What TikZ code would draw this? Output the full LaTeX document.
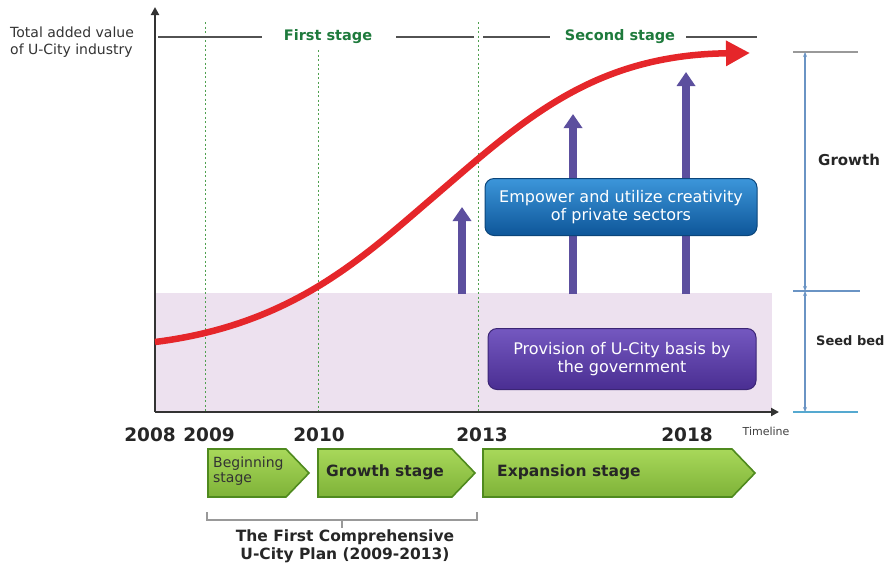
\documentclass[tikz,border=0pt]{standalone}
\usepackage{fontspec}
\setmainfont{DejaVu Sans}
\usetikzlibrary{arrows.meta}
\definecolor{axisgray}{HTML}{333333}
\definecolor{stagegreen}{HTML}{1E7A3C}
\definecolor{dashgreen}{HTML}{4FA04F}
\definecolor{curvered}{HTML}{E5262A}
\definecolor{arrowpurple}{HTML}{5C4F9E}
\definecolor{seedpink}{HTML}{EDE1EF}
\definecolor{chevfill}{HTML}{8CC63E}
\definecolor{chevtop}{HTML}{A8D85A}
\definecolor{chevborder}{HTML}{4F8A1E}
\definecolor{bracketblue}{HTML}{6A94C4}
\definecolor{boxbluetop}{HTML}{3C96DA}
\definecolor{boxbluebot}{HTML}{0E5699}
\definecolor{boxpurtop}{HTML}{7458C0}
\definecolor{boxpurbot}{HTML}{4A2E92}
\tikzset{
  axisline/.style={draw=axisgray, line width=2.6pt, -{Triangle[length=8pt,width=8pt]}},
  headline/.style={draw=axisgray!85, line width=2pt},
  yeardash/.style={draw=dashgreen, line width=0.9pt, dash pattern=on 2pt off 2.5pt},
  yearlabel/.style={font=\bfseries\fontsize{18.5}{20}\selectfont, text=black!85, inner sep=0pt},
  stagelabel/.style={font=\bfseries\fontsize{14.5}{16}\selectfont, text=stagegreen, inner sep=0pt},
  uparrow/.style={draw=arrowpurple, line width=8pt, -{Triangle[length=14pt,width=18pt]}},
  chev/.style={draw=chevborder, line width=1.6pt, top color=chevtop, bottom color=chevfill!90!black},
  chevtext/.style={font=\bfseries\fontsize{15.5}{17}\selectfont, text=black!85, inner sep=0pt},
  actionbox/.style={rounded corners=9pt, draw=#1bot!80!black, line width=1pt,
     top color=#1top, bottom color=#1bot, text=white, align=center,
     font=\fontsize{16}{18.5}\selectfont, inner sep=0pt},
  sidetick/.style={draw=bracketblue, line width=1.6pt},
  sidelabel/.style={font=\bfseries\fontsize{15}{17}\selectfont, text=black!85, inner sep=0pt, anchor=west},
}
\begin{document}
\begin{tikzpicture}[x=1pt, y=-1pt]
\useasboundingbox (0,0) rectangle (893,566);
% seed bed background
\fill[seedpink] (155,293) rectangle (772,411);
% dashed year lines
\coordinate (d09t) at (205,22); \coordinate (d09b) at (205,411);
\coordinate (d10t) at (318,50); \coordinate (d10b) at (318,411);
\coordinate (d13t) at (478,22); \coordinate (d13b) at (478,411);
\draw[yeardash] (d09t) -- (d09b);
\draw[yeardash] (d10t) -- (d10b);
\draw[yeardash] (d13t) -- (d13b);
% axes
\coordinate (origin) at (155,412);
\coordinate (ytop) at (155,7);
\coordinate (xend) at (779,412);
\draw[axisline] (origin) -- (ytop);
\draw[axisline] (origin) -- (xend);
% axis label
\node[anchor=west, align=left, font=\fontsize{14}{16.5}\selectfont, text=black!80, inner sep=0pt] (ylabel) at (10,42) {Total added value\\of U-City industry};
\node[font=\fontsize{11}{12}\selectfont, text=black!75, inner sep=0pt] (timeline) at (766,431) {Timeline};
% stage header
\node[stagelabel] (first) at (328,37) {First stage};
\node[stagelabel] (second) at (620,37) {Second stage};
\coordinate (h1a) at (158,37); \coordinate (h1b) at (262,37);
\coordinate (h2a) at (396,37); \coordinate (h2b) at (474,37);
\coordinate (h3a) at (483,37); \coordinate (h3b) at (550,37);
\coordinate (h4a) at (686,37); \coordinate (h4b) at (757,37);
\draw[headline] (h1a) -- (h1b);
\draw[headline] (h2a) -- (h2b);
\draw[headline] (h3a) -- (h3b);
\draw[headline] (h4a) -- (h4b);
% purple arrows
\coordinate (a1s) at (462,294); \coordinate (a1e) at (462,207);
\coordinate (a2s) at (573,294); \coordinate (a2e) at (573,114);
\coordinate (a3s) at (686,294); \coordinate (a3e) at (686,72);
\draw[uparrow] (a1s) -- (a1e);
\draw[uparrow] (a2s) -- (a2e);
\draw[uparrow] (a3s) -- (a3e);
% boxes
\node[actionbox=boxblue, minimum width=272pt, minimum height=57pt] (empower) at (621,207) {Empower and utilize creativity\\of private sectors};
\node[actionbox=boxpur, minimum width=268pt, minimum height=61pt] (provision) at (622,359) {Provision of U-City basis by\\the government};
% red curve
\coordinate (cstart) at (155,342);
\coordinate (cmid) at (430,200);
\coordinate (cend) at (750,53);
\draw[draw=curvered, line width=6.5pt, -{Triangle[length=24pt,width=24pt]}]
  (cstart) .. controls (290,325) and (360,260) .. (cmid)
           .. controls (520,123) and (590,55) .. (cend);
% right bracket
\coordinate (rtop) at (805,52); \coordinate (rmid) at (805,291); \coordinate (rbot) at (805,412);
\draw[sidetick, draw=gray!80] (793,52) -- (858,52);
\draw[sidetick] (793,291) -- (860,291);
\draw[sidetick, draw=bracketblue!80!cyan] (793,412) -- (858,412);
\draw[draw=bracketblue, line width=1.3pt, {Stealth[length=5pt,width=4pt]}-{Stealth[length=5pt,width=4pt]}] (rtop) -- (rmid);
\draw[draw=bracketblue, line width=1.3pt, {Stealth[length=5pt,width=4pt]}-{Stealth[length=5pt,width=4pt]}] (rmid) -- (rbot);
\node[sidelabel] (growth) at (818,160) {Growth};
\node[sidelabel, font=\bfseries\fontsize{13}{15}\selectfont] (seedbed) at (816,341) {Seed bed};
% years
\node[yearlabel] (y08) at (150,435) {2008};
\node[yearlabel] (y09) at (209,435) {2009};
\node[yearlabel] (y10) at (319,435) {2010};
\node[yearlabel] (y13) at (482,435) {2013};
\node[yearlabel] (y18) at (687,435) {2018};
% chevrons
\draw[chev] (208,449) -- (286,449) -- (309,473) -- (286,497) -- (208,497) -- cycle;
\draw[chev] (318,449) -- (452,449) -- (475,473) -- (452,497) -- (318,497) -- cycle;
\draw[chev] (483,449) -- (732,449) -- (755,473) -- (732,497) -- (483,497) -- cycle;
\node[anchor=west, align=left, font=\fontsize{14}{15}\selectfont, text=black!80, inner sep=0pt] (beg) at (213,471) {Beginning\\stage};
\node[chevtext] (grow) at (385,472) {Growth stage};
\node[chevtext, anchor=west] (expan) at (497,472) {Expansion stage};
% bottom bracket
\coordinate (bl) at (207,512); \coordinate (br) at (477,512);
\coordinate (bc) at (342,520); \coordinate (bct) at (342,528);
\draw[draw=gray!80, line width=1.3pt] (bl) -- (207,520) -- (477,520) -- (br);
\draw[draw=gray!80, line width=1.3pt] (bc) -- (bct);
\node[align=center, font=\bfseries\fontsize{15.5}{18}\selectfont, text=black!85, inner sep=0pt] (plan) at (345,546) {The First Comprehensive\\U-City Plan (2009-2013)};
\end{tikzpicture}
\end{document}
